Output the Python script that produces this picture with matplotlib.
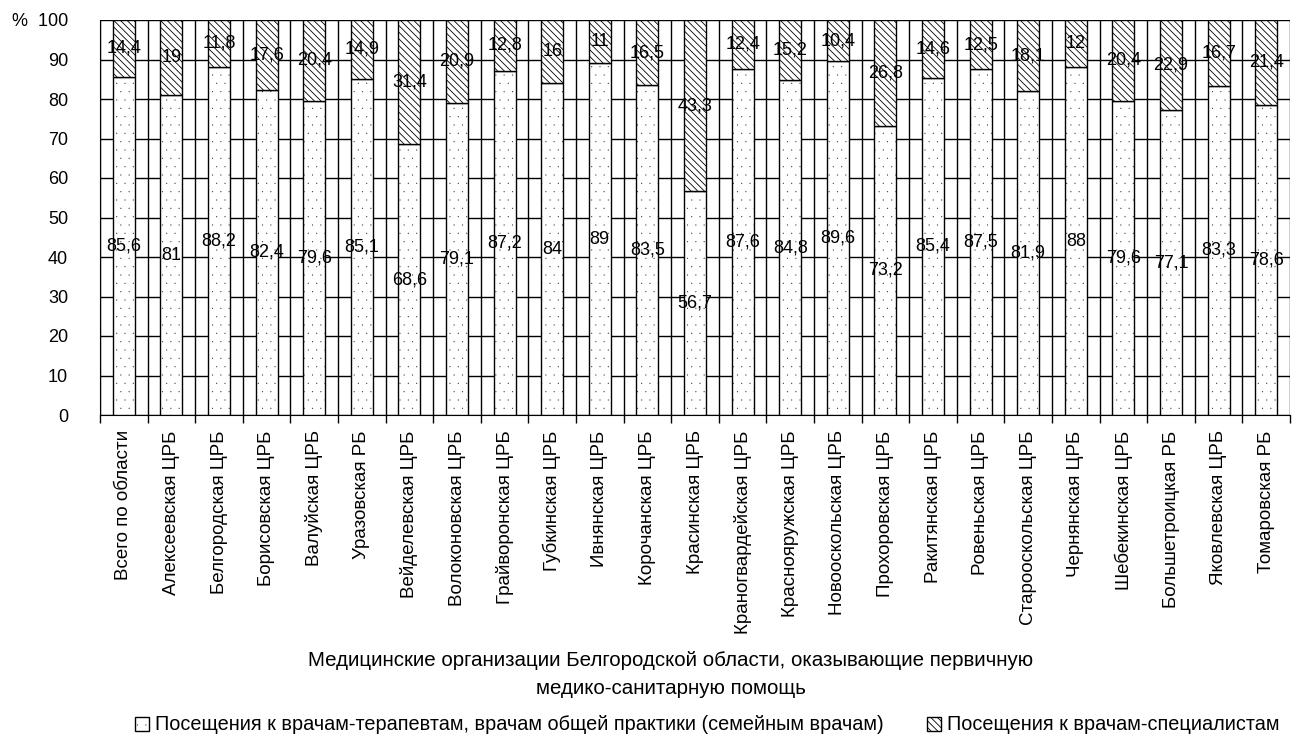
import matplotlib.pyplot as plt
import numpy as np
import matplotlib as mpl
import matplotlib.hatch as mhatch

plt.rcParams['font.family'] = ['Liberation Sans', 'DejaVu Sans']
mpl.rcParams['hatch.linewidth'] = 0.6
mhatch.SmallFilledCircles.size = 0.02

categories = ['Всего по области', 'Алексеевская ЦРБ', 'Белгородская ЦРБ', 'Борисовская ЦРБ',
              'Валуйская ЦРБ', 'Уразовская РБ', 'Вейделевская ЦРБ', 'Волоконовская ЦРБ',
              'Грайворонская ЦРБ', 'Губкинская ЦРБ', 'Ивнянская ЦРБ', 'Корочанская ЦРБ',
              'Красинская ЦРБ', 'Краногвардейская ЦРБ', 'Краснояружская ЦРБ', 'Новооскольская ЦРБ',
              'Прохоровская ЦРБ', 'Ракитянская ЦРБ', 'Ровеньская ЦРБ', 'Старооскольская ЦРБ',
              'Чернянская ЦРБ', 'Шебекинская ЦРБ', 'Большетроицкая РБ', 'Яковлевская ЦРБ',
              'Томаровская РБ']
therapists = [85.6, 81, 88.2, 82.4, 79.6, 85.1, 68.6, 79.1, 87.2, 84, 89, 83.5, 56.7,
              87.6, 84.8, 89.6, 73.2, 85.4, 87.5, 81.9, 88, 79.6, 77.1, 83.3, 78.6]
specialists = [14.4, 19, 11.8, 17.6, 20.4, 14.9, 31.4, 20.9, 12.8, 16, 11, 16.5, 43.3,
               12.4, 15.2, 10.4, 26.8, 14.6, 12.5, 18.1, 12, 20.4, 22.9, 16.7, 21.4]
yticks = [0, 10, 20, 30, 40, 50, 60, 70, 80, 90, 100]
ytick_labels = ['0', '10', '20', '30', '40', '50', '60', '70', '80', '90', '%  100']

def fmt(v):
    return ('%g' % v).replace('.', ',')

fig = plt.figure(figsize=(12.92, 7.36), dpi=100)
ax = fig.add_axes([100 / 1292, 1 - 415 / 736, 1190 / 1292, 395 / 736])

x = np.arange(len(categories))
w = 0.46
b1 = ax.bar(x, therapists, w, color='white', edgecolor='black', hatch='..', linewidth=1.0, zorder=3,
            label='Посещения к врачам-терапевтам, врачам общей практики (семейным врачам)')
b2 = ax.bar(x, specialists, w, bottom=therapists, color='white', edgecolor='black', hatch='\\\\\\\\\\',
            linewidth=1.0, zorder=3, label='Посещения к врачам-специалистам')

# value labels in the middle of each segment
for i in range(len(categories)):
    ax.text(x[i], therapists[i] / 2, fmt(therapists[i]), ha='center', va='center', fontsize=13, zorder=4)
    ax.text(x[i], therapists[i] + specialists[i] / 2, fmt(specialists[i]), ha='center', va='center',
            fontsize=13, zorder=4)

ax.set_xlim(-0.5, len(categories) - 0.5)
ax.set_ylim(0, 100)
ax.set_yticks(yticks)
ax.set_yticklabels(ytick_labels, fontsize=13)
ax.set_xticks(x)
ax.set_xticklabels(categories, rotation=90, fontsize=13.5)
ax.tick_params(axis='x', length=0, pad=11)
ax.tick_params(axis='y', length=0, pad=23)
ax.set_xticks(np.arange(len(categories) + 1) - 0.5, minor=True)
ax.tick_params(axis='x', which='minor', length=6, width=1)

ax.grid(axis='y', color='black', linewidth=1, zorder=0)
ax.grid(axis='x', which='minor', color='black', linewidth=1, zorder=0)
for s in ['top', 'right']:
    ax.spines[s].set_visible(False)

fig.text(671 / 1292, 1 - 661 / 736, 'Медицинские организации Белгородской области, оказывающие первичную',
         ha='center', va='center', fontsize=14.8)
fig.text(671 / 1292, 1 - 688 / 736, 'медико-санитарную помощь', ha='center', va='center', fontsize=14.8)

fig.legend(handles=[b1, b2], loc='center', bbox_to_anchor=(707 / 1292, 1 - 725 / 736), ncol=2,
           frameon=False, fontsize=14.3, handlelength=0.7, handleheight=0.7, handletextpad=0.3,
           columnspacing=2.2, borderpad=0)

fig.savefig('out.png', dpi=100)
